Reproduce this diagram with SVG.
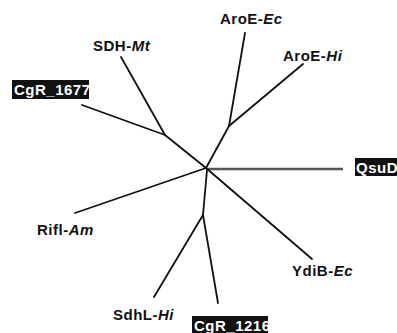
<svg xmlns="http://www.w3.org/2000/svg" width="397" height="333" viewBox="0 0 397 333">
  <style>
    .br { stroke: #111; stroke-width: 1.8; fill: none; stroke-linecap: round; }
    .brg { stroke: #555; stroke-width: 2.6; fill: none; }
    .lbl { font-family: "Liberation Sans", Arial, sans-serif; font-weight: bold; font-size: 15px; letter-spacing: 0.5px; fill: #111; }
    .inv { fill: #fff; }
    .box { fill: #111; }
  </style>
  <rect width="397" height="333" fill="#fff"/>

  <!-- tree branches -->
  <g id="connectors">
    <line class="br" x1="206" y1="168" x2="165" y2="135"/>
    <line class="br" x1="165" y1="135" x2="121" y2="57"/>
    <line class="br" x1="165" y1="135" x2="82" y2="105"/>
    <line class="br" x1="206" y1="168" x2="229" y2="126"/>
    <line class="br" x1="229" y1="126" x2="245" y2="33"/>
    <line class="br" x1="229" y1="126" x2="303" y2="64"/>
    <line class="brg" x1="208" y1="169" x2="343" y2="169"/>
    <line class="br" x1="206" y1="168" x2="75" y2="213"/>
    <line class="br" x1="207" y1="170" x2="203" y2="215"/>
    <line class="br" x1="203" y1="215" x2="154" y2="297"/>
    <line class="br" x1="203" y1="215" x2="218" y2="303"/>
    <line class="br" x1="206" y1="168" x2="312" y2="259"/>
  </g>

  <g id="sdh-mt"><text class="lbl" x="93" y="51">SDH-<tspan font-style="italic">Mt</tspan></text></g>
  <g id="cgr-1677">
    <rect class="box" x="12" y="80" width="77" height="19"/>
    <text class="lbl inv" x="14" y="95">CgR_1677</text>
  </g>
  <g id="aroe-ec"><text class="lbl" x="220" y="24">AroE-<tspan font-style="italic">Ec</tspan></text></g>
  <g id="aroe-hi"><text class="lbl" x="283" y="61">AroE-<tspan font-style="italic">Hi</tspan></text></g>
  <g id="qsud">
    <rect class="box" x="355" y="158" width="42" height="18"/>
    <text class="lbl inv" x="356" y="173" letter-spacing="0">QsuD</text>
  </g>
  <g id="rifl-am"><text class="lbl" x="37" y="235">Rifl-<tspan font-style="italic">Am</tspan></text></g>
  <g id="sdhl-hi"><text class="lbl" x="113" y="320">SdhL-<tspan font-style="italic">Hi</tspan></text></g>
  <g id="cgr-1216">
    <rect class="box" x="192" y="316" width="76" height="17"/>
    <text class="lbl inv" x="194" y="331">CgR_1216</text>
  </g>
  <g id="ydib-ec"><text class="lbl" x="292" y="276">YdiB-<tspan font-style="italic">Ec</tspan></text></g>
</svg>
